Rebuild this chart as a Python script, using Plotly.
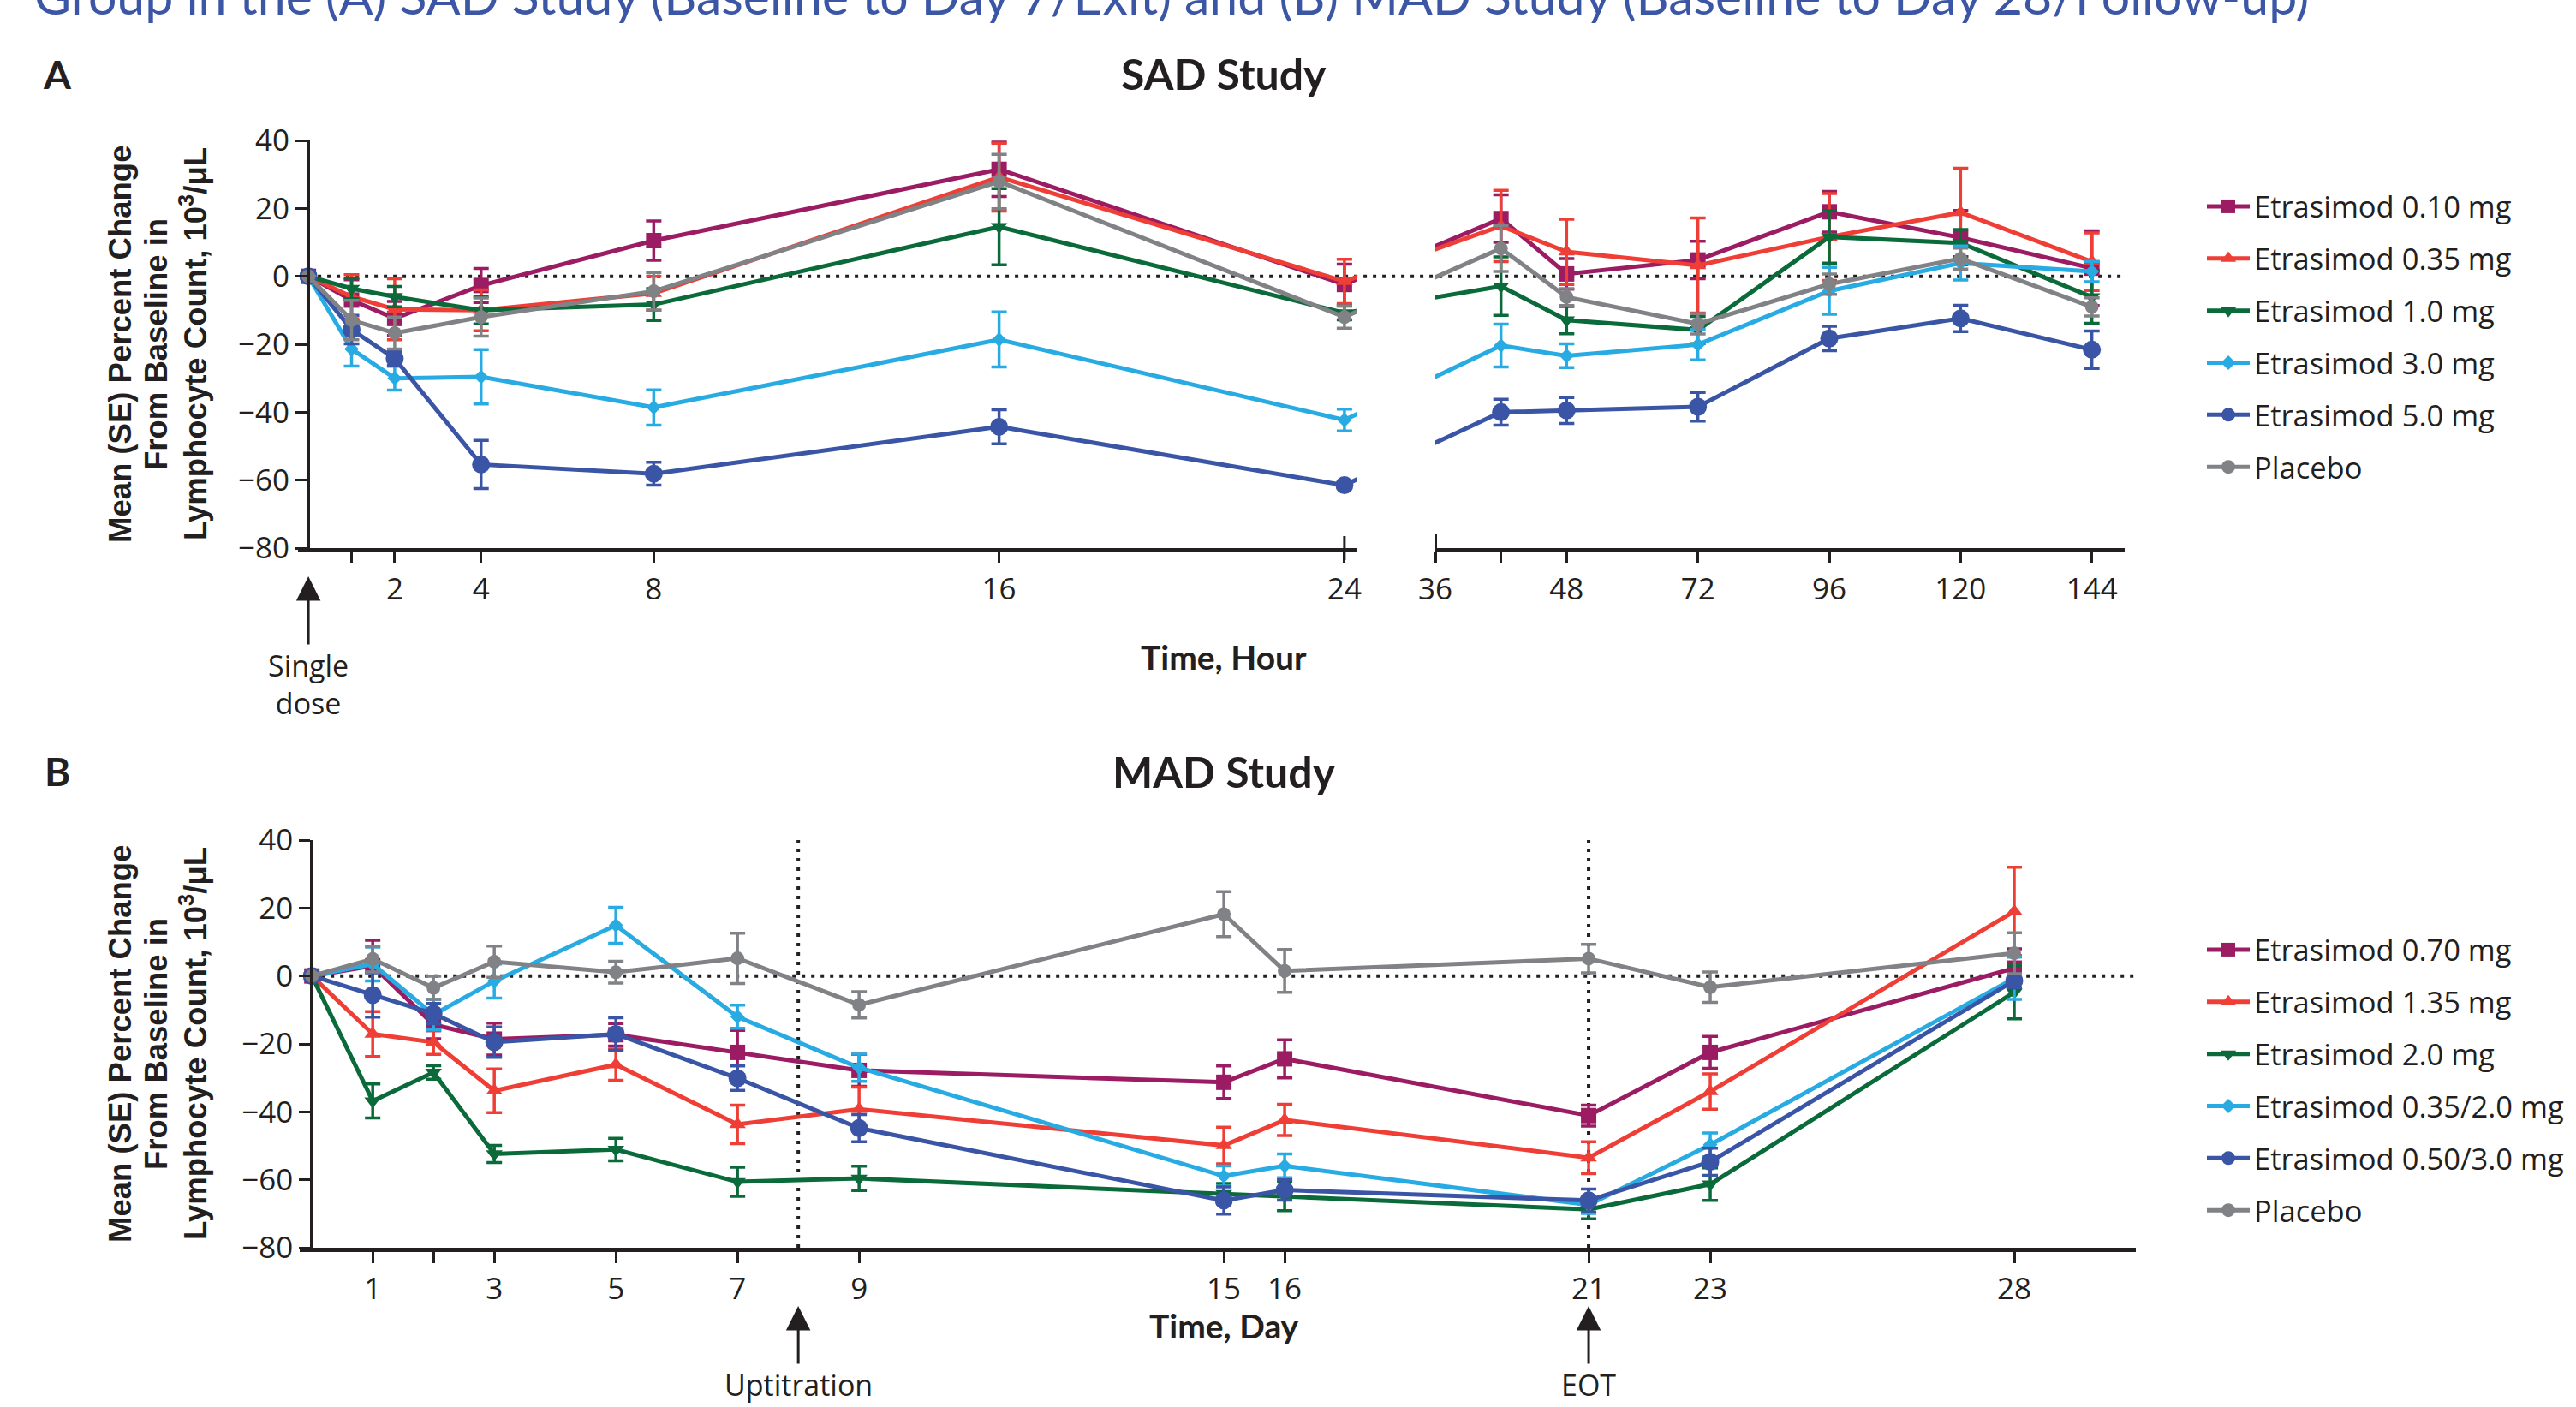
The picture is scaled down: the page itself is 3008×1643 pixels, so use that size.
import plotly.graph_objects as go

# ---------------- data ----------------
sad_hours = [0, 1, 2, 4, 8, 16, 24, 36, 48, 72, 96, 120, 144]
sad_groups = ["Etrasimod 0.10 mg", "Etrasimod 0.35 mg", "Etrasimod 1.0 mg",
              "Etrasimod 3.0 mg", "Etrasimod 5.0 mg", "Placebo"]
sad_mean_010 = [0, -7, -12.4, -2.7, 10.5, 31.5, -2.4, 17, 0.7, 4.8, 19, 11.4, 2.4]
sad_se_010 = [0, 6, 5, 5, 5.8, 8, 6, 7, 4.5, 5.5, 6, 8, 11]
sad_mean_035 = [0, -6, -9.7, -10, -5, 29.2, -1.5, 14.8, 7.2, 3.2, 11.6, 18.8, 4.3]
sad_se_035 = [0, 6.5, 9, 6, 5, 10, 6.5, 10.5, 9.6, 14, 12.8, 13, 8.5]
sad_mean_10 = [0, -3.6, -6, -10, -8.3, 14.6, -10.8, -2.9, -12.9, -15.8, 11.6, 9.8, -6.1]
sad_se_10 = [0, 3, 3, 4, 4.7, 11.2, 2, 8.6, 4, 4, 7.7, 4, 7.7]
sad_mean_30 = [0, -21.4, -30, -29.6, -38.6, -18.6, -42.3, -20.4, -23.4, -20.1, -4.3, 3.9, 1.4]
sad_se_30 = [0, 5, 3.5, 8, 5.2, 8.1, 3.2, 6.3, 3.5, 4.5, 6.9, 5, 3]
sad_mean_50 = [0, -15.7, -24.2, -55.4, -58.1, -44.3, -61.5, -40, -39.5, -38.4, -18.3, -12.4, -21.6]
sad_se_50 = [0, 4.2, 2, 7.1, 3.4, 5, 1, 3.8, 3.8, 4.2, 3.6, 3.9, 5.5]
sad_mean_pbo = [0, -12.9, -16.7, -12, -4.4, 27.9, -12, 8.2, -6.1, -14, -2.3, 5.2, -9]
sad_se_pbo = [0, 5.8, 4.7, 5.6, 5.5, 8, 3.3, 6.8, 2.5, 3, 3, 3.1, 2.7]

mad_days = [0, 1, 2, 3, 5, 7, 9, 15, 16, 21, 23, 28]
mad_groups = ["Etrasimod 0.70 mg", "Etrasimod 1.35 mg", "Etrasimod 2.0 mg",
              "Etrasimod 0.35/2.0 mg", "Etrasimod 0.50/3.0 mg", "Placebo"]
mad_mean_070 = [0, 3, -14.3, -18.6, -17.3, -22.5, -27.8, -31.3, -24.4, -41.1, -22.5, 2.3]
mad_se_070 = [0, 7.5, 4.2, 4.7, 3.3, 6.5, 4.7, 4.8, 5.6, 3.1, 4.7, 5.7]
mad_mean_135 = [0, -17.1, -19.5, -33.8, -26.1, -43.7, -39.2, -49.9, -42.4, -53.5, -34, 19]
mad_se_135 = [0, 6.6, 3.6, 6.4, 4.6, 5.7, 6.5, 5.4, 4.6, 4.7, 5.2, 13]
mad_mean_20 = [0, -36.8, -28.4, -52.4, -51.1, -60.6, -59.6, -64.1, -64.8, -68.7, -61.3, -4.8]
mad_se_20 = [0, 5, 2, 2.5, 3.3, 4.3, 3.6, 3, 4.3, 2.8, 4.8, 7.8]
mad_mean_035_20 = [0, 3.5, -11.4, -1.5, 14.9, -12, -27, -58.9, -55.9, -67.4, -49.7, -0.7]
mad_se_035_20 = [0, 5, 4.5, 5, 5.3, 3.4, 4, 3, 3.5, 2.5, 3.5, 6.2]
mad_mean_050_30 = [0, -5.6, -11.1, -19.5, -17.1, -30.1, -44.8, -66.1, -63, -66.1, -54.7, -1.4]
mad_se_050_30 = [0, 6.5, 3, 4.5, 4.8, 3.6, 4, 4, 3, 3.4, 4, 2]
mad_mean_pbo = [0, 5, -3.5, 4.2, 1.1, 5.2, -8.5, 18.2, 1.5, 5.1, -3.3, 6.7]
mad_se_pbo = [0, 3.8, 3.4, 4.6, 3.2, 7.4, 3.9, 6.6, 6.3, 4.2, 4.5, 6]

sad_ticks_left = [2, 4, 8, 16, 24]
sad_ticktext_left = ["2", "4", "8", "16", "24"]
sad_minor_left = [1]
sad_ticks_right = [24, 48, 72, 96, 120, 144]
sad_ticktext_right = ["36", "48", "72", "96", "120", "144"]
sad_minor_right = [36]
mad_ticks = [1, 3, 5, 7, 9, 15, 16, 21, 23, 28]
mad_ticktext = ["1", "3", "5", "7", "9", "15", "16", "21", "23", "28"]
mad_minor = [2]
y_ticks = [-80, -60, -40, -20, 0, 20, 40]
sad_break_hour = 24
uptitration_day = 8
eot_day = 21

sad_means = [sad_mean_010, sad_mean_035, sad_mean_10, sad_mean_30, sad_mean_50, sad_mean_pbo]
sad_ses = [sad_se_010, sad_se_035, sad_se_10, sad_se_30, sad_se_50, sad_se_pbo]
mad_means = [mad_mean_070, mad_mean_135, mad_mean_20, mad_mean_035_20, mad_mean_050_30, mad_mean_pbo]
mad_ses = [mad_se_070, mad_se_135, mad_se_20, mad_se_035_20, mad_se_050_30, mad_se_pbo]

# ---------------- styles ----------------
colors = ["#9B1C63", "#EE3E36", "#0B6A3A", "#27ABE2", "#3A55A5", "#808285"]
symbols = ["square", "triangle-up", "triangle-down", "diamond", "circle", "circle"]
msizes = [18, 17, 17, 13, 21, 16]
INK = "#231F20"
HUMAN = "Open Sans, Lato, DejaVu Sans, sans-serif"
TITLEF = "Lato, Open Sans, DejaVu Sans, sans-serif"
ARIAL = "Liberation Sans, Arial, sans-serif"

FW, FH = 3008, 1643
A_Y = (164, 640)
B_Y = (981, 1457)
AL_X, AL_R = (348, 1585), [-0.24, 24.3]
AR_X, AR_R = (1676, 2481), [24, 150]
B_X, B_R = (350, 2494), [-0.2, 30]
Y_R = [-80, 40]


def fx(px):
    return px / FW


def fy(px):
    return 1 - px / FH


def to_px(x, dom, rng):
    return dom[0] + (x - rng[0]) / (rng[1] - rng[0]) * (dom[1] - dom[0])


def from_px(px, dom, rng):
    return rng[0] + (px - dom[0]) / (dom[1] - dom[0]) * (rng[1] - rng[0])


fig = go.Figure()

# ---------------- SAD panel ----------------
ib = sad_hours.index(sad_break_hour)
px_break = to_px(sad_hours[ib], AL_X, AL_R)
px_next = to_px(sad_hours[ib + 1], AR_X, AR_R)
for k, name in enumerate(sad_groups):
    m, s = sad_means[k], sad_ses[k]
    c = colors[k]
    line = dict(color=c, width=5)
    mk = dict(symbol=symbols[k], size=msizes[k], color=c, line=dict(width=0))
    err = dict(thickness=3.5, width=9, color=c)
    fig.add_trace(go.Scatter(x=[sad_hours[ib], from_px(px_next, AL_X, AL_R)], y=[m[ib], m[ib + 1]],
                             mode="lines", line=line, xaxis="x", yaxis="y",
                             showlegend=False, hoverinfo="skip", legendgroup="a%d" % k))
    fig.add_trace(go.Scatter(x=[from_px(px_break, AR_X, AR_R), sad_hours[ib + 1]], y=[m[ib], m[ib + 1]],
                             mode="lines", line=line, xaxis="x2", yaxis="y",
                             showlegend=False, hoverinfo="skip", legendgroup="a%d" % k))
    fig.add_trace(go.Scatter(x=sad_hours[:ib + 1], y=m[:ib + 1], name=name,
                             mode="lines+markers", line=line, marker=mk,
                             error_y=dict(type="data", array=s[:ib + 1], **err),
                             xaxis="x", yaxis="y", legend="legend", legendgroup="a%d" % k))
    fig.add_trace(go.Scatter(x=sad_hours[ib + 1:], y=m[ib + 1:], name=name,
                             mode="lines+markers", line=line, marker=mk,
                             error_y=dict(type="data", array=s[ib + 1:], **err),
                             xaxis="x2", yaxis="y", showlegend=False, legendgroup="a%d" % k))

# ---------------- MAD panel ----------------
for k, name in enumerate(mad_groups):
    c = colors[k]
    fig.add_trace(go.Scatter(x=mad_days, y=mad_means[k], name=name,
                             mode="lines+markers", line=dict(color=c, width=5),
                             marker=dict(symbol=symbols[k], size=msizes[k], color=c, line=dict(width=0)),
                             error_y=dict(type="data", array=mad_ses[k], thickness=3.5, width=9, color=c),
                             xaxis="x3", yaxis="y2", legend="legend2", legendgroup="b%d" % k))

tickfont = dict(family=HUMAN, size=35, color=INK)
xcommon = dict(showgrid=False, zeroline=False, showline=True, linecolor=INK, linewidth=5,
               ticks="outside", ticklen=13, tickwidth=3, tickcolor=INK, tickfont=tickfont)
minor_style = dict(ticks="outside", ticklen=13, tickwidth=3, tickcolor=INK, showgrid=False)
ycommon = dict(range=Y_R, tickvals=y_ticks, showgrid=False, zeroline=False, showline=True,
               linecolor=INK, linewidth=4, ticks="outside", ticklen=13, tickwidth=3,
               tickcolor=INK, tickfont=tickfont, anchor="free")

legend_font = dict(family=HUMAN, size=34.5, color=INK)
fig.update_layout(
    width=FW, height=FH, autosize=False,
    margin=dict(l=0, r=0, t=0, b=0, autoexpand=False),
    paper_bgcolor="white", plot_bgcolor="white",
    xaxis=dict(domain=[fx(AL_X[0]), fx(AL_X[1])], range=AL_R, tickvals=sad_ticks_left,
               ticktext=sad_ticktext_left, anchor="y",
               minor=dict(tickvals=sad_minor_left, **minor_style), **xcommon),
    xaxis2=dict(domain=[fx(AR_X[0]), fx(AR_X[1])], range=AR_R, tickvals=sad_ticks_right,
                ticktext=sad_ticktext_right, anchor="y",
                minor=dict(tickvals=sad_minor_right, **minor_style), **xcommon),
    xaxis3=dict(domain=[fx(B_X[0]), fx(B_X[1])], range=B_R, tickvals=mad_ticks,
                ticktext=mad_ticktext, anchor="y2",
                minor=dict(tickvals=mad_minor, **minor_style), **xcommon),
    yaxis=dict(domain=[fy(A_Y[1]), fy(A_Y[0])], position=fx(to_px(0, AL_X, AL_R)), **ycommon),
    yaxis2=dict(domain=[fy(B_Y[1]), fy(B_Y[0])], position=fx(to_px(0, B_X, B_R)), **ycommon),
    legend=dict(x=fx(2572), y=fy(212), xanchor="left", yanchor="top", font=legend_font,
                itemwidth=50, tracegroupgap=13, bgcolor="rgba(0,0,0,0)"),
    legend2=dict(x=fx(2572), y=fy(1080), xanchor="left", yanchor="top", font=legend_font,
                 itemwidth=50, tracegroupgap=13, bgcolor="rgba(0,0,0,0)"),
    showlegend=True,
)

dotted = dict(color=INK, width=4, dash="4px,7px")
shapes = [
    dict(type="line", xref="paper", yref="y", x0=fx(to_px(0, AL_X, AL_R)), x1=fx(AR_X[1]),
         y0=0, y1=0, line=dotted, layer="below"),
    dict(type="line", xref="x3", yref="y2", x0=0, x1=B_R[1], y0=0, y1=0, line=dotted, layer="below"),
    dict(type="line", xref="x3", yref="y2", x0=uptitration_day, x1=uptitration_day,
         y0=Y_R[0], y1=Y_R[1], line=dotted, layer="below"),
    dict(type="line", xref="x3", yref="y2", x0=eot_day, x1=eot_day,
         y0=Y_R[0], y1=Y_R[1], line=dotted, layer="below"),
    dict(type="line", xref="x", yref="paper", x0=sad_break_hour, x1=sad_break_hour,
         y0=fy(A_Y[1] - 14), y1=fy(A_Y[1] + 14), line=dict(color=INK, width=3)),
    dict(type="line", xref="x2", yref="paper", x0=AR_R[0], x1=AR_R[0],
         y0=fy(A_Y[1] - 16), y1=fy(A_Y[1] + 16), line=dict(color=INK, width=4)),
]
fig.update_layout(shapes=shapes)

ann = []
ann.append(dict(text="Group in the (A) SAD Study (Baseline to Day 7/Exit) and (B) MAD Study (Baseline to Day 28/Follow-up)",
                xref="paper", yref="paper", x=fx(38), y=fy(-5), xanchor="left", yanchor="middle",
                showarrow=False, font=dict(family=TITLEF, size=59, color="#3C56A6")))
for lab, ty, title in [("A", 86, "SAD Study"), ("B", 901, "MAD Study")]:
    ann.append(dict(text=lab, xref="paper", yref="paper", x=fx(67), y=fy(ty), xanchor="center",
                    yanchor="middle", showarrow=False,
                    font=dict(family=TITLEF, size=46, color=INK, weight="bold")))
    ann.append(dict(text=title, xref="paper", yref="paper", x=fx(1429), y=fy(ty), xanchor="center",
                    yanchor="middle", showarrow=False,
                    font=dict(family=TITLEF, size=50, color=INK, weight="bold")))
ytitle_lines = ["Mean (SE) Percent Change", "From Baseline in", "Lymphocyte Count, 10<sup>3</sup>/μL"]
ytitle_x = [140, 182, 226]
for yc in [(A_Y[0] + A_Y[1]) / 2, (B_Y[0] + B_Y[1]) / 2]:
    for txt, xp in zip(ytitle_lines, ytitle_x):
        ann.append(dict(text=txt, xref="paper", yref="paper", x=fx(xp), y=fy(yc), textangle=-90,
                        xanchor="center", yanchor="middle", showarrow=False,
                        font=dict(family=ARIAL, size=36.5, color=INK, weight="bold")))
ann.append(dict(text="Time, Hour", xref="paper", yref="paper", x=fx(1429), y=fy(767),
                showarrow=False, font=dict(family=TITLEF, size=39, color=INK, weight="bold")))
ann.append(dict(text="Time, Day", xref="paper", yref="paper", x=fx(1429), y=fy(1573),
                showarrow=False, font=dict(family=TITLEF, size=39, color=INK, weight="bold")))
arrow = dict(showarrow=True, arrowhead=2, arrowsize=1.9, arrowwidth=3, arrowcolor=INK,
             axref="pixel", ayref="pixel", ax=0, standoff=0, yref="paper")
ann.append(dict(text="Single<br>dose", xref="x", x=0, y=fy(673), ay=126,
                font=dict(family=HUMAN, size=34, color=INK), **arrow))
ann.append(dict(text="Uptitration", xref="x3", x=uptitration_day, y=fy(1525), ay=92,
                font=dict(family=HUMAN, size=34, color=INK), **arrow))
ann.append(dict(text="EOT", xref="x3", x=eot_day, y=fy(1525), ay=92,
                font=dict(family=HUMAN, size=34, color=INK), **arrow))
fig.update_layout(annotations=ann)

fig.write_html("out.html", config={"displayModeBar": False},
               post_script="document.body.style.margin='0px';document.body.style.overflow='hidden';")
